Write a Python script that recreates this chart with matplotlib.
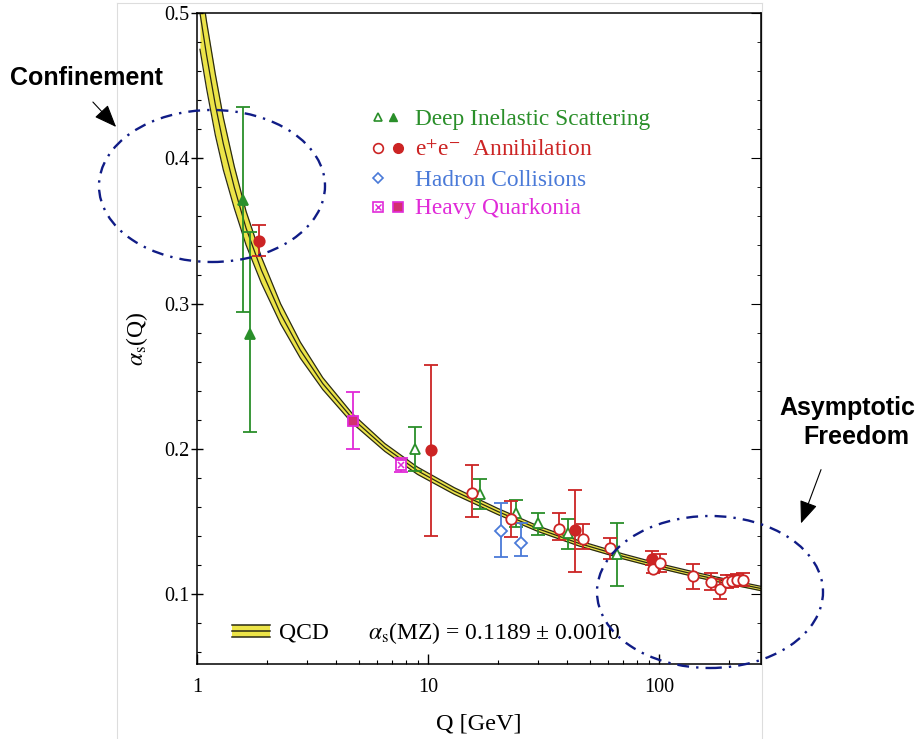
import numpy as np
import matplotlib.pyplot as plt
from matplotlib.patches import Ellipse, FancyArrowPatch, Rectangle
from matplotlib.lines import Line2D
from matplotlib.ticker import FixedLocator, MultipleLocator, NullFormatter

plt.rcParams['font.family'] = ['Liberation Serif', 'DejaVu Serif']
plt.rcParams['mathtext.fontset'] = 'stix'

# QCD running coupling band (centre and half width)
qcd_q = [1.03, 1.1, 1.2, 1.3, 1.45, 1.63, 1.9, 2.3, 2.8, 3.5, 4.7, 6.5, 9, 13,
         20, 30, 45, 70, 100, 150, 200, 275]
qcd_a = [0.500, 0.471, 0.437, 0.410, 0.380, 0.352, 0.323, 0.293, 0.268, 0.245,
         0.221, 0.201, 0.185, 0.171, 0.157, 0.145, 0.135, 0.126, 0.1195,
         0.1128, 0.1085, 0.1040]
qcd_hw = [0.025, 0.023, 0.021, 0.018, 0.0144, 0.0116, 0.009, 0.0069, 0.0055,
          0.0041, 0.0033, 0.0027, 0.0025, 0.0023, 0.0021, 0.0019, 0.0018,
          0.0017, 0.0016, 0.0016, 0.0015, 0.0015]

# Deep inelastic scattering
dis_full_q = [1.58, 1.70]
dis_full_a = [0.371, 0.279]
dis_full_hi = [0.435, 0.349]
dis_full_lo = [0.294, 0.212]

dis_open_q = [8.78, 16.8, 24.0, 29.9, 40.4, 65.6]
dis_open_a = [0.200, 0.169, 0.156, 0.149, 0.142, 0.128]
dis_open_hi = [0.215, 0.179, 0.165, 0.156, 0.152, 0.149]
dis_open_lo = [0.185, 0.159, 0.146, 0.141, 0.131, 0.106]

# e+e- annihilation
ee_full_q = [1.86, 10.3, 43.4, 92.9]
ee_full_a = [0.343, 0.199, 0.1445, 0.1246]
ee_full_hi = [0.354, 0.258, 0.172, 0.1296]
ee_full_lo = [0.333, 0.140, 0.115, 0.120]

ee_open_q = [15.5, 22.9, 36.9, 46.6, 61.0, 94.5, 101, 140, 168, 183, 196, 207,
             218, 231]
ee_open_a = [0.1697, 0.1516, 0.1448, 0.1383, 0.1315, 0.1177, 0.1216, 0.1124,
             0.1085, 0.1039, 0.1085, 0.1090, 0.1096, 0.1101]
ee_open_hi = [0.1888, 0.1642, 0.1562, 0.1482, 0.1390, 0.1234, 0.1280, 0.1211,
              0.1149, 0.1108, 0.1130, 0.1135, 0.1140, 0.1145]
ee_open_lo = [0.1532, 0.1394, 0.1372, 0.1312, 0.1246, 0.1147, 0.1154, 0.1039,
              0.1028, 0.0966, 0.1045, 0.1050, 0.1055, 0.1060]

# Hadron collisions
had_q = [20.6, 25.3]
had_a = [0.1436, 0.1356]
had_hi = [0.1625, 0.1487]
had_lo = [0.1257, 0.1262]

# Heavy quarkonia
hq_full_q = [4.72]
hq_full_a = [0.219]
hq_full_hi = [0.239]
hq_full_lo = [0.200]

hq_open_q = [7.62]
hq_open_a = [0.189]
hq_open_hi = [0.1935]
hq_open_lo = [0.184]

GREEN = '#2a8f2a'
RED = '#cc2424'
BLUE = '#4a7ad8'
MAGENTA = '#e02ad8'
NAVY = '#101c86'
BAND = '#ece448'
EDGE = '#2a2a14'

W, H = 922, 739
fig = plt.figure(figsize=(W / 100, H / 100), dpi=100)
ax = fig.add_axes([197 / W, 1 - 664 / H, 563.7 / W, 651 / H])


def px(x, y):
    """pixel position -> figure fraction"""
    return x / W, 1 - y / H


def points(q, a, hi, lo, color, marker, face, ms=7.5):
    a = np.array(a)
    yerr = [a - np.array(lo), np.array(hi) - a]
    ax.errorbar(q, a, yerr=yerr, fmt=marker, color=color, mfc=face, mec=color,
                ms=ms, mew=1.3, elinewidth=1.3, capsize=5, capthick=1.3,
                zorder=3)


# band
qa = np.array(qcd_a)
hw = np.array(qcd_hw)
ax.fill_between(qcd_q, qa - hw, qa + hw, color=BAND, lw=0, zorder=1.5)
for yy in (qa - hw, qa, qa + hw):
    ax.plot(qcd_q, yy, color=EDGE, lw=0.9, zorder=1.6)

points(dis_full_q, dis_full_a, dis_full_hi, dis_full_lo, GREEN, '^', GREEN)
points(dis_open_q, dis_open_a, dis_open_hi, dis_open_lo, GREEN, '^', 'white')
points(ee_full_q, ee_full_a, ee_full_hi, ee_full_lo, RED, 'o', RED)
points(ee_open_q, ee_open_a, ee_open_hi, ee_open_lo, RED, 'o', 'white')
points(had_q, had_a, had_hi, had_lo, BLUE, 'D', 'white', ms=6)
points(hq_full_q, hq_full_a, hq_full_hi, hq_full_lo, MAGENTA, 's', '#d23070')
points(hq_open_q, hq_open_a, hq_open_hi, hq_open_lo, MAGENTA, 's', 'white')
ax.plot(hq_open_q, hq_open_a, 'x', color=MAGENTA, ms=5, mew=1.1, zorder=4)

ax.set_xscale('log')
ax.set_xlim(1, 275)
ax.set_ylim(0.052, 0.5)
ax.xaxis.set_major_locator(FixedLocator([1, 10, 100]))
ax.set_xticklabels(['1', '10', '100'])
ax.xaxis.set_minor_formatter(NullFormatter())
ax.yaxis.set_minor_locator(MultipleLocator(0.02))
ax.set_yticks([0.1, 0.2, 0.3, 0.4, 0.5])
ax.set_yticklabels(['0.1', '0.2', '0.3', '0.4', '0.5'])
ax.tick_params(axis='x', which='major', direction='in', length=7, width=1,
               labelsize=14.5, pad=10)
ax.tick_params(axis='x', which='minor', direction='in', length=3, width=0.8)
ax.tick_params(axis='y', which='major', direction='inout', length=9, width=1,
               labelsize=14.5, pad=1)
ax.tick_params(axis='y', which='minor', direction='in', length=3, width=0.8)
sec = ax.secondary_yaxis('right')
sec.yaxis.set_major_locator(MultipleLocator(0.1))
sec.yaxis.set_minor_locator(MultipleLocator(0.02))
sec.tick_params(which='major', direction='in', length=7, labelright=False)
sec.tick_params(which='minor', direction='in', length=3)
for s in ax.spines.values():
    s.set_linewidth(1.1)

ax.set_xlabel('Q [GeV]', fontsize=17.5, labelpad=12)
ax.set_ylabel(r'$\alpha_{\rm s}$(Q)', fontsize=17, labelpad=10)


# legend drawn by hand
def fx(p):
    return (p - 197) / 563.7


def fy(p):
    return (664 - p) / 651


T = ax.transAxes
rows = [117, 148, 178, 207]
ax.plot(fx(378), fy(rows[0]), '^', transform=T, color=GREEN, mfc='white',
        ms=6, mew=1.2, clip_on=False)
ax.plot(fx(393), fy(rows[0]), '^', transform=T, color=GREEN, ms=6,
        clip_on=False)
ax.plot(fx(378), fy(rows[1]), 'o', transform=T, color=RED, mfc='white',
        ms=7, mew=1.2, clip_on=False)
ax.plot(fx(398), fy(rows[1]), 'o', transform=T, color=RED, ms=7,
        clip_on=False)
ax.plot(fx(378), fy(rows[2]), 'D', transform=T, color=BLUE, mfc='white',
        ms=5, mew=1.2, clip_on=False)
ax.plot(fx(378), fy(rows[3]), 's', transform=T, color=MAGENTA, mfc='white',
        ms=6.5, mew=1.2, clip_on=False)
ax.plot(fx(378), fy(rows[3]), 'x', transform=T, color=MAGENTA, ms=4, mew=1,
        clip_on=False)
ax.plot(fx(398), fy(rows[3]), 's', transform=T, color=MAGENTA, mfc='#d23070',
        ms=6.5, mew=1.2, clip_on=False)
labels = ['Deep Inelastic Scattering', r'e$^{+}$e$^{-}$  Annihilation',
          'Hadron Collisions', 'Heavy Quarkonia']
colors = [GREEN, RED, BLUE, MAGENTA]
for r, lab, c in zip(rows, labels, colors):
    ax.text(fx(415), fy(r + 2), lab, transform=T, color=c, fontsize=16.8,
            va='center', ha='left')

# QCD band key
ax.add_patch(Rectangle((fx(232), fy(637)), fx(270) - fx(232),
                       fy(625) - fy(637), transform=T, color=BAND, lw=0))
for yy in (625, 631, 637):
    ax.plot([fx(232), fx(270)], [fy(yy), fy(yy)], transform=T,
            color=EDGE, lw=1.1)
ax.text(fx(279), fy(633), 'QCD', transform=T, fontsize=17, va='center')
ax.text(fx(368), fy(633), r'$\alpha_{\rm s}$(MZ) = 0.1189 ± 0.0010',
        transform=T, fontsize=17, va='center')

# border of the pasted figure
for xs, ys in [([117, 117], [739, 3]), ([117, 762], [3, 3]),
               ([762, 762], [739, 3])]:
    fig.add_artist(Line2D([x / W for x in xs], [1 - y / H for y in ys],
                          color='#dddddd', lw=0.8))

for cx, cy in [(212, 186), (710, 592)]:
    fig.add_artist(Ellipse(px(cx, cy), 226 / W, 152 / H,
                           transform=fig.transFigure, fill=False, ec=NAVY,
                           lw=1.7, ls=(0, (5, 3, 1, 3)), zorder=5))

sans = ['Liberation Sans', 'DejaVu Sans']
fig.text(*px(86, 78), 'Confinement', family=sans, weight='bold', fontsize=18,
         ha='center', va='center')
fig.text(*px(847, 408), 'Asymptotic', family=sans, weight='bold',
         fontsize=18, ha='center', va='center')
fig.text(*px(856, 437), 'Freedom', family=sans, weight='bold', fontsize=18,
         ha='center', va='center')

for a, b in [((91, 100), (118, 129)), ((822, 467), (800, 526))]:
    fig.add_artist(FancyArrowPatch(px(*a), px(*b), transform=fig.transFigure,
                                   arrowstyle='-|>,head_length=1.0,head_width=0.4',
                                   mutation_scale=14, color='black', lw=0.8))

fig.savefig('out.png', dpi=100)
